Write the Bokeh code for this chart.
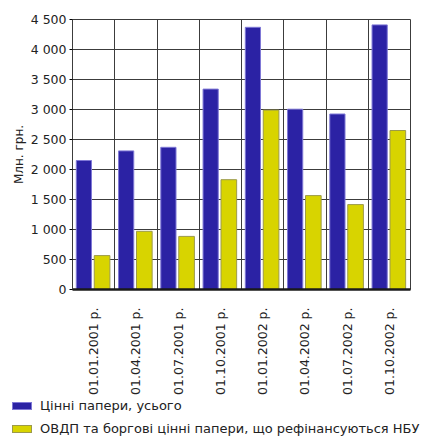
import numpy as np
from bokeh.plotting import figure
from bokeh.models import ColumnDataSource, FixedTicker, Range1d, Div
from bokeh.layouts import column
from bokeh.transform import dodge
from bokeh.embed import file_html
from bokeh.resources import INLINE

# Quarterly dates
dates = ["01.01.2001 р.", "01.04.2001 р.", "01.07.2001 р.", "01.10.2001 р.",
         "01.01.2002 р.", "01.04.2002 р.", "01.07.2002 р.", "01.10.2002 р."]

# Values, million UAH
securities_total = [2150, 2310, 2370, 3340, 4370, 3005, 2925, 4410]
ovdp_refinanced = [565, 970, 885, 1830, 2990, 1565, 1415, 2650]

series_names = ["Цінні папери, усього",
                "ОВДП та боргові цінні папери, що рефінансуються НБУ"]

y_ticks = [0, 500, 1000, 1500, 2000, 2500, 3000, 3500, 4000, 4500]
y_tick_labels = ["0", "500", "1 000", "1 500", "2 000", "2 500",
                 "3 000", "3 500", "4 000", "4 500"]
y_label = "Млн. грн."

FONT = "DejaVu Sans"
BLUE = "#2b22a4"
BLUE_EDGE = "#7f78d6"
YELLOW = "#d8d400"
YELLOW_EDGE = "#9c9a4a"
GRID = "#3c3c3c"
TEXT = "#222222"

pos = list(range(len(dates)))
source = ColumnDataSource(dict(x=pos, total=securities_total, ovdp=ovdp_refinanced))

p = figure(width=421, height=397, x_range=Range1d(-0.5, len(dates) - 0.5),
           y_range=Range1d(0, 4500), output_backend="svg", toolbar_location=None,
           min_border_left=72, min_border_right=11, min_border_top=19,
           min_border_bottom=107)

p.vbar(x=dodge("x", -0.23), top="total", source=source, width=0.36,
       fill_color=BLUE, line_color=BLUE_EDGE, line_width=1)
p.vbar(x=dodge("x", 0.20), top="ovdp", source=source, width=0.37,
       fill_color=YELLOW, line_color=YELLOW_EDGE, line_width=1)

# Grid: horizontal at every 500, vertical between quarter groups
p.ygrid.ticker = FixedTicker(ticks=y_ticks)
p.ygrid.grid_line_color = GRID
p.ygrid.grid_line_width = 1
p.xgrid.ticker = FixedTicker(ticks=[i + 0.5 for i in pos[:-1]])
p.xgrid.grid_line_color = GRID
p.xgrid.grid_line_width = 1
p.outline_line_color = GRID
p.outline_line_width = 1

# Y axis
p.yaxis.ticker = FixedTicker(ticks=y_ticks)
p.yaxis.major_label_overrides = {t: s for t, s in zip(y_ticks, y_tick_labels)}
p.yaxis.axis_label = y_label
p.yaxis.axis_label_text_font = FONT
p.yaxis.axis_label_text_font_style = "normal"
p.yaxis.axis_label_text_font_size = "12px"
p.yaxis.axis_label_text_color = TEXT
p.yaxis.axis_label_standoff = 2
p.yaxis.major_label_text_font = FONT
p.yaxis.major_label_text_font_size = "12.5px"
p.yaxis.major_label_text_color = TEXT
p.yaxis.major_label_standoff = 3
p.yaxis.major_tick_out = 3
p.yaxis.major_tick_in = 0
p.yaxis.minor_tick_line_color = None
p.yaxis.axis_line_color = GRID

# X axis: date labels read bottom-to-top
p.xaxis.ticker = FixedTicker(ticks=pos)
p.xaxis.major_label_overrides = {i: d for i, d in zip(pos, dates)}
p.xaxis.major_label_orientation = np.pi / 2
p.xaxis.major_label_text_font = FONT
p.xaxis.major_label_text_font_size = "12.5px"
p.xaxis.major_label_text_color = TEXT
p.xaxis.major_label_standoff = 12
p.xaxis.major_tick_line_color = None
p.xaxis.minor_tick_line_color = None
p.xaxis.axis_line_color = "#1a1a1a"
p.xaxis.axis_line_width = 2.5

# Series key under the chart, flush with the left edge
def key_row(top, fill, edge, label):
    swatch = (f'<div style="position:absolute;left:12px;top:{top}px;width:20px;'
              f'height:8px;box-sizing:border-box;background:{fill};'
              f'border:1px solid {edge};"></div>')
    text = (f'<div style="position:absolute;left:40px;top:{top - 4}px;'
            f'line-height:16px;white-space:nowrap;">{label}</div>')
    return swatch + text

key_html = (f'<div style="position:relative;width:421px;height:42px;'
            f'font-family:\'{FONT}\';font-size:13px;color:{TEXT};">'
            + key_row(5, BLUE, BLUE_EDGE, series_names[0])
            + key_row(28, YELLOW, YELLOW_EDGE, series_names[1])
            + '</div>')
key = Div(text=key_html, width=421, height=42, margin=0)

layout = column(p, key, spacing=0)

open("out.html", "w").write(file_html(layout, INLINE))
